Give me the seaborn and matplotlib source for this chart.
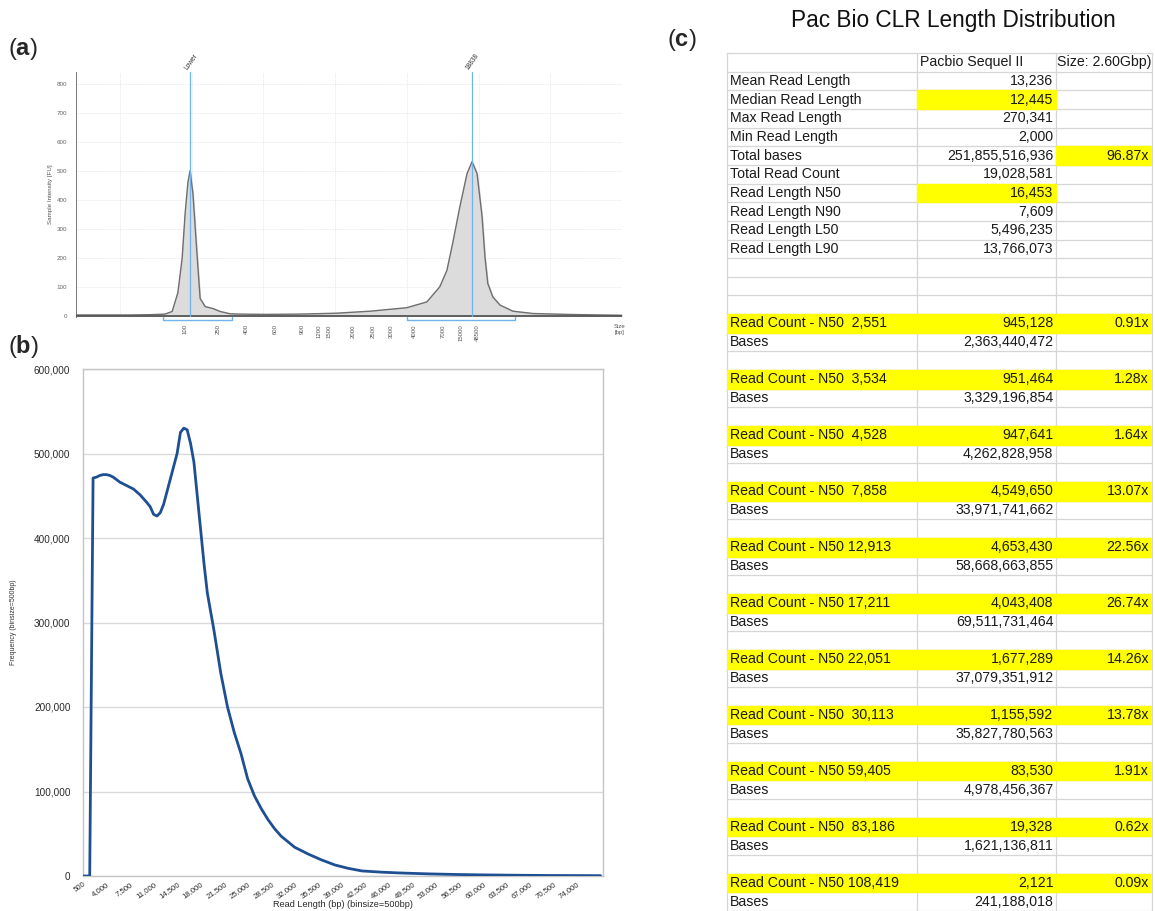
import numpy as np
import pandas as pd
import matplotlib.pyplot as plt
from matplotlib.ticker import FuncFormatter, MultipleLocator
from matplotlib.patches import Rectangle
import seaborn as sns

# ================================
# Style
# ================================
sns.set_style("white")
plt.rcParams['font.family'] = ['Liberation Sans', 'DejaVu Sans']
plt.rcParams['mathtext.fontset'] = 'custom'
plt.rcParams['mathtext.rm'] = 'Liberation Sans'
plt.rcParams['mathtext.bf'] = 'Liberation Sans:bold'

# ================================
# Panel (a): electropherogram trace (run position vs FU)
# ================================
trace_pos = [3.9, 7.2, 11.4, 14.2, 16.3, 17.3, 18.1, 18.7, 19.1, 19.5, 19.8, 20.2,
             20.8, 21.2, 21.9, 23.0, 24.0, 25.4, 26.8, 30.1, 35.1, 40.1, 44.9,
             50.0, 52.8, 54.6, 55.6, 56.4, 57.4, 58.4, 59.1, 59.8, 60.5, 60.9,
             61.3, 62.0, 63.0, 64.8, 67.6, 72.3, 76.9, 80.0]
trace_fu = [3, 3, 3, 4, 6, 15, 80, 200, 350, 460, 500, 420,
            200, 60, 32, 25, 15, 7, 6, 5, 6, 9, 16,
            28, 48, 100, 157, 250, 376, 490, 531, 490, 341, 203,
            111, 65, 37, 16, 8, 5, 3, 2]
ladder_pos = [19.8, 24.4, 28.4, 32.3, 36.2, 38.5, 39.9, 43.2, 46.0, 48.6,
              51.8, 55.7, 58.3, 60.5]
ladder_bp = ["100", "250", "400", "600", "900", "1200", "1500", "2000", "2500",
             "3000", "4000", "7000", "15000", "48500"]
marker_pos = [19.8, 59.1]
marker_names = ["Lower", "18838"]
region_start = [16.0, 50.0]
region_end = [25.6, 65.1]

# ================================
# Panel (b): read length histogram (binsize 500 bp)
# ================================
bin_bp = [500, 1000, 1500, 2000, 2500, 3000, 3500, 4000, 4500, 5000, 6000, 7000,
          8000, 9000, 10000, 10500, 11000, 11500, 12000, 12500, 13000, 13500,
          14000, 14500, 15000, 15500, 16000, 16500, 17000, 17500, 18000, 18500,
          19000, 20000, 21000, 22000, 23000, 24000, 25000, 26000, 27000, 28000,
          29000, 30000, 32000, 34000, 36000, 38000, 40000, 42000, 45000, 48000,
          52000, 56000, 60000, 65000, 70000, 74000, 77500]
read_freq = [0, 0, 0, 471000, 472000, 474000, 475000, 475000, 474000, 472000,
             466000, 462000, 458000, 451000, 442000, 437000, 428000, 426000,
             430000, 440000, 455000, 470000, 485000, 500000, 525000, 530000,
             528000, 512000, 490000, 450000, 410000, 370000, 335000, 290000,
             240000, 200000, 170000, 145000, 115000, 95000, 80000, 67000, 56000,
             47000, 34000, 26000, 19000, 13000, 9000, 6000, 4500, 3500, 2500,
             1800, 1300, 900, 600, 500, 400]
b_xticks = list(range(500, 74001, 3500))

# ================================
# Panel (c): length statistics table
# ================================
stat_names = ["Mean Read Length", "Median Read Length", "Max Read Length",
              "Min Read Length", "Total bases", "Total Read Count",
              "Read Length N50", "Read Length N90", "Read Length L50",
              "Read Length L90"]
stat_values = ["13,236", "12,445", "270,341", "2,000", "251,855,516,936",
               "19,028,581", "16,453", "7,609", "5,496,235", "13,766,073"]
stat_cov = ["", "", "", "", "96.87x", "", "", "", "", ""]
stat_marked = [(1, 1), (4, 2), (6, 1)]   # (stat index, column) in yellow

n50_labels = ["Read Count - N50  2,551", "Read Count - N50  3,534",
              "Read Count - N50  4,528", "Read Count - N50  7,858",
              "Read Count - N50 12,913", "Read Count - N50 17,211",
              "Read Count - N50 22,051", "Read Count - N50  30,113",
              "Read Count - N50 59,405", "Read Count - N50  83,186",
              "Read Count - N50 108,419"]
n50_counts = ["945,128", "951,464", "947,641", "4,549,650", "4,653,430",
              "4,043,408", "1,677,289", "1,155,592", "83,530", "19,328", "2,121"]
n50_cov = ["0.91x", "1.28x", "1.64x", "13.07x", "22.56x", "26.74x", "14.26x",
           "13.78x", "1.91x", "0.62x", "0.09x"]
n50_bases = ["2,363,440,472", "3,329,196,854", "4,262,828,958",
             "33,971,741,662", "58,668,663,855", "69,511,731,464",
             "37,079,351,912", "35,827,780,563", "4,978,456,367",
             "1,621,136,811", "241,188,018"]

W, H = 1155, 911
fig = plt.figure(figsize=(W / 100, H / 100), dpi=100)

# ================================
# Draw panel (a)
# ================================
ax_a = fig.add_axes([76 / W, 1 - 317 / H, 546 / W, 245 / H])
df_a = pd.DataFrame({"pos": trace_pos, "fu": trace_fu})
ax_a.fill_between(df_a["pos"], df_a["fu"], color="#dcdcdc", zorder=2)
sns.lineplot(data=df_a, x="pos", y="fu", ax=ax_a, color="#6e6e6e", lw=1.0, zorder=3)
ax_a.axhline(0, color="#555555", lw=1.3, zorder=4)
for p in marker_pos:
    ax_a.axvline(p, color="#6fb3ea", lw=0.9, zorder=5)
for p, name in zip(marker_pos, marker_names):
    ax_a.text(p - 0.6, 1.01, name, transform=ax_a.get_xaxis_transform(),
              rotation=55, rotation_mode="anchor", ha="left", va="center",
              fontsize=4.8, color="#333333")
ax_a.set_xlim(3.9, 80)
ax_a.set_ylim(-4, 840)
ax_a.set_yticks(range(0, 801, 100))
ax_a.yaxis.set_minor_locator(MultipleLocator(10))
ax_a.tick_params(axis="y", labelsize=4.5, labelcolor="#666666", length=2.5,
                 width=0.6, color="#777777", direction="inout", pad=5)
ax_a.tick_params(axis="y", which="minor", length=2, width=0.5, color="#888888",
                 direction="inout")
ax_a.set_xticks(ladder_pos)
ax_a.set_xticklabels([])
ax_a.tick_params(axis="x", length=20, width=0.7, color="#777777", direction="out", pad=0)
for p, lab in zip(ladder_pos, ladder_bp):
    ax_a.text(p - 0.35, -0.03, lab, transform=ax_a.get_xaxis_transform(),
              rotation=90, ha="right", va="top", fontsize=4.3, color="#555555")
for s, e in zip(region_start, region_end):
    ax_a.plot([s, s, e, e], [0, -0.012, -0.012, 0], transform=ax_a.get_xaxis_transform(),
              color="#6fb3ea", lw=1.0, clip_on=False, zorder=6)
ax_a.text(0.995, -0.03, "Size\n[bp]", transform=ax_a.transAxes, ha="center",
          va="top", fontsize=4.3, color="#555555")
ax_a.set_xlabel("")
ax_a.set_ylabel("Sample Intensity [FU]", fontsize=4.5, color="#555555", labelpad=3)
ax_a.grid(True, axis="y", color="#e4e4e4", lw=0.6, ls=(0, (1, 1)))
for gx in range(10, 81, 10):
    ax_a.axvline(gx, color="#e4e4e4", lw=0.6, ls=(0, (1, 1)), zorder=0)
for side in ["top", "right", "bottom"]:
    ax_a.spines[side].set_visible(False)
ax_a.spines["left"].set_color("#777777")
ax_a.spines["left"].set_linewidth(0.7)

# ================================
# Draw panel (b)
# ================================
ax_b = fig.add_axes([83 / W, 1 - 876 / H, 520 / W, 507 / H])
df_b = pd.DataFrame({"bp": bin_bp, "freq": read_freq})
sns.lineplot(data=df_b, x="bp", y="freq", ax=ax_b, color="#1f4f93", lw=2.0, zorder=3)
ax_b.set_xlim(500, 77870)
ax_b.set_ylim(0, 600000)
ax_b.set_yticks(range(0, 600001, 100000))
ax_b.yaxis.set_major_formatter(FuncFormatter(lambda v, _: f"{v:,.0f}"))
ax_b.set_xticks(b_xticks)
ax_b.set_xticklabels([f"{v:,}" for v in b_xticks], rotation=35, ha="right",
                     rotation_mode="anchor")
ax_b.xaxis.set_minor_locator(MultipleLocator(500))
ax_b.tick_params(axis="y", labelsize=7.2, labelcolor="#2a2a2a", length=0, pad=9)
ax_b.tick_params(axis="x", labelsize=5.6, labelcolor="#2a2a2a", length=2.5,
                 color="#aaaaaa", width=0.6, pad=1)
ax_b.tick_params(axis="x", which="minor", length=2.5, color="#aaaaaa", width=0.6)
ax_b.grid(True, axis="y", color="#dadada", lw=1.0)
ax_b.set_xlabel("Read Length (bp) (binsize=500bp)", fontsize=6.6, color="#2a2a2a")
ax_b.xaxis.set_label_coords(0.5, -0.056)
ax_b.xaxis.label.set_va("center")
ax_b.set_ylabel("Frequency (binsize=500bp)", fontsize=5, color="#333333", labelpad=12)
for side in ax_b.spines:
    ax_b.spines[side].set_color("#c4c4c4")
    ax_b.spines[side].set_linewidth(1.0)

# ================================
# Draw panel (c): table
# ================================
n_rows = 1 + len(stat_names) + 3 + 3 * len(n50_labels) - 1
ax_t = fig.add_axes([727 / W, 0, 425 / W, (H - 53) / H])
ax_t.set_xlim(0, 1)
ax_t.set_ylim(n_rows, 0)
ax_t.axis("off")
col_edges = [0, 0.447, 0.774, 1.0]
x_left, x_val, x_cov = 0.006, 0.768, 0.993
yellow = "#ffff00"
fs = 10.2
txt = "#1a1a1a"

for r in range(n_rows + 1):
    ax_t.plot([0, 1], [r, r], color="#d6d6d6", lw=0.9, zorder=1, clip_on=False)
for cx in col_edges:
    ax_t.plot([cx, cx], [0, n_rows], color="#d6d6d6", lw=0.9, zorder=1, clip_on=False)

# header
ax_t.text(0.454, 0.5, "Pacbio Sequel II", ha="left", va="center", fontsize=fs, color=txt)
ax_t.text(0.777, 0.5, "Size: 2.60Gbp)", ha="left", va="center", fontsize=fs,
          color=txt, clip_on=False)

# summary stats
for i, (name, val, cov) in enumerate(zip(stat_names, stat_values, stat_cov)):
    r = 1 + i
    for (si, c) in stat_marked:
        if si == i:
            ax_t.add_patch(Rectangle((col_edges[c], r), col_edges[c + 1] - col_edges[c], 1,
                                     color=yellow, zorder=2))
    ax_t.text(x_left, r + 0.5, name, ha="left", va="center", fontsize=fs, color=txt, zorder=3)
    ax_t.text(x_val, r + 0.5, val, ha="right", va="center", fontsize=fs, color=txt, zorder=3)
    if cov:
        ax_t.text(x_cov, r + 0.5, cov, ha="right", va="center", fontsize=fs, color=txt, zorder=3)

# read count blocks
start = 1 + len(stat_names) + 3
for k, (lab, cnt, cov, bases) in enumerate(zip(n50_labels, n50_counts, n50_cov, n50_bases)):
    r = start + 3 * k
    ax_t.add_patch(Rectangle((0, r), 1, 1, color=yellow, zorder=2))
    ax_t.text(x_left, r + 0.5, lab, ha="left", va="center", fontsize=fs, color=txt, zorder=3)
    ax_t.text(x_val, r + 0.5, cnt, ha="right", va="center", fontsize=fs, color=txt, zorder=3)
    ax_t.text(x_cov, r + 0.5, cov, ha="right", va="center", fontsize=fs, color=txt, zorder=3)
    ax_t.text(x_left, r + 1.5, "Bases", ha="left", va="center", fontsize=fs, color=txt, zorder=3)
    ax_t.text(x_val, r + 1.5, bases, ha="right", va="center", fontsize=fs, color=txt, zorder=3)

fig.text(953 / W, 1 - 20 / H, "Pac Bio CLR Length Distribution", ha="center",
         va="center", fontsize=16.3, color="#111111")

# panel letters
fig.text(8 / W, 1 - 49 / H, r"($\mathbf{a}$)", fontsize=17, va="center", ha="left")
fig.text(8 / W, 1 - 347 / H, r"($\mathbf{b}$)", fontsize=17, va="center", ha="left")
fig.text(667 / W, 1 - 40 / H, r"($\mathbf{c}$)", fontsize=17, va="center", ha="left")

fig.savefig("out.png", dpi=100)
